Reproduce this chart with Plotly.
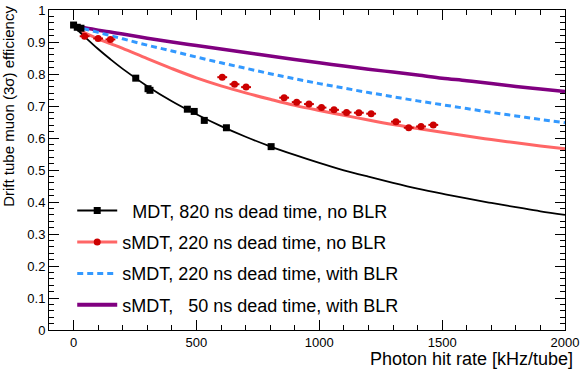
import plotly.graph_objects as go

# measured points
mdt_rate = [0, 15, 30, 253, 303, 311, 463, 491, 532, 622, 804]
mdt_eff = [0.953, 0.946, 0.943, 0.787, 0.754, 0.749, 0.690, 0.683, 0.655, 0.632, 0.573]

smdt_rate = [45, 100, 150, 605, 655, 702, 857, 908, 958, 1009, 1060, 1111, 1161, 1211,
             1312, 1364, 1414, 1464]
smdt_eff = [0.918, 0.911, 0.908, 0.790, 0.768, 0.759, 0.726, 0.712, 0.706, 0.695, 0.688,
            0.680, 0.679, 0.676, 0.651, 0.632, 0.636, 0.641]
smdt_rate_err = [20] * len(smdt_rate)

# model curves
curve_rate = [0, 50, 100, 150, 200, 300, 400, 500, 600, 700, 800, 900, 1000, 1100, 1200,
              1300, 1400, 1500, 1600, 1700, 1800, 1900, 2000]
mdt_curve = [0.950, 0.913, 0.878, 0.846, 0.816, 0.762, 0.715, 0.674, 0.637, 0.604, 0.574,
             0.547, 0.522, 0.499, 0.479, 0.460, 0.442, 0.426, 0.411, 0.397, 0.384, 0.371,
             0.360]
smdt_curve = [0.950, 0.927, 0.910, 0.895, 0.880, 0.848, 0.817, 0.788, 0.763, 0.741, 0.721,
              0.702, 0.686, 0.671, 0.656, 0.642, 0.630, 0.618, 0.606, 0.595, 0.585, 0.575,
              0.566]
smdt_blr_curve = [0.950, 0.940, 0.930, 0.920, 0.910, 0.890, 0.872, 0.853, 0.835, 0.818,
                  0.801, 0.785, 0.770, 0.756, 0.742, 0.729, 0.716, 0.704, 0.692, 0.680,
                  0.669, 0.658, 0.648]
smdt50_blr_curve = [0.950, 0.944, 0.937, 0.931, 0.925, 0.912, 0.900, 0.889, 0.878, 0.867,
                    0.856, 0.845, 0.835, 0.825, 0.815, 0.806, 0.797, 0.787, 0.779, 0.770,
                    0.761, 0.753, 0.745]

legend_names = [
    "\u00a0\u00a0MDT, 820 ns dead time, no BLR",
    "sMDT, 220 ns dead time, no BLR",
    "sMDT, 220 ns dead time, with BLR",
    "sMDT,\u00a0\u00a0\u00a050 ns dead time, with BLR",
]

BLACK = "black"
SALMON = "#ff6666"
RED = "#cc0000"
BLUE = "#3399ff"
PURPLE = "#800080"
FONT = "Liberation Sans, Arial, sans-serif"

fig = go.Figure()

# curves
fig.add_trace(go.Scatter(x=curve_rate, y=smdt50_blr_curve, mode="lines", line_shape="spline",
                         line=dict(color=PURPLE, width=3.5), showlegend=False))
fig.add_trace(go.Scatter(x=curve_rate, y=smdt_blr_curve, mode="lines", line_shape="spline",
                         line=dict(color=BLUE, width=3, dash="6px,4px"), showlegend=False))
fig.add_trace(go.Scatter(x=curve_rate, y=smdt_curve, mode="lines", line_shape="spline",
                         line=dict(color=SALMON, width=3), showlegend=False))
fig.add_trace(go.Scatter(x=curve_rate, y=mdt_curve, mode="lines", line_shape="spline",
                         line=dict(color=BLACK, width=1.8), showlegend=False))

# data points
fig.add_trace(go.Scatter(x=smdt_rate, y=smdt_eff, mode="markers",
                         marker=dict(symbol="circle", size=7, color=RED),
                         error_x=dict(type="data", array=smdt_rate_err, color=RED,
                                      thickness=2, width=0),
                         showlegend=False))
fig.add_trace(go.Scatter(x=mdt_rate, y=mdt_eff, mode="markers",
                         marker=dict(symbol="square", size=7, color=BLACK),
                         showlegend=False))

# legend-only entries
legend_styles = [
    dict(mode="lines+markers", line=dict(color=BLACK, width=2),
         marker=dict(symbol="square", size=7, color=BLACK)),
    dict(mode="lines+markers", line=dict(color=SALMON, width=3),
         marker=dict(symbol="circle", size=7, color=RED)),
    dict(mode="lines", line=dict(color=BLUE, width=3, dash="6px,4px")),
    dict(mode="lines", line=dict(color=PURPLE, width=4)),
]
for i, (name, style) in enumerate(zip(legend_names, legend_styles)):
    fig.add_trace(go.Scatter(x=[None], y=[None], name=name, legendgroup=f"g{i}", **style))

axis_common = dict(
    showline=True, linecolor="black", linewidth=1, mirror="ticks",
    ticks="inside", ticklen=10, tickcolor="black", tickwidth=1,
    showgrid=False, zeroline=False, automargin=False,
    tickfont=dict(family=FONT, size=13, color="black"),
)

fig.update_layout(
    width=581, height=369,
    margin=dict(l=49, r=16, t=10, b=39, autoexpand=False),
    paper_bgcolor="white", plot_bgcolor="white",
    font=dict(family=FONT, color="black"),
    xaxis=dict(range=[-100, 2000], tick0=0, dtick=500,
               minor=dict(dtick=100, ticklen=5, ticks="inside", tickcolor="black"),
               **axis_common),
    yaxis=dict(range=[0, 1], tick0=0, dtick=0.1,
               minor=dict(dtick=0.02, ticklen=5, ticks="inside", tickcolor="black"),
               **axis_common),
    legend=dict(x=0.045, y=0.43, xanchor="left", yanchor="top",
                bgcolor="rgba(0,0,0,0)", font=dict(family=FONT, size=18),
                traceorder="grouped", tracegroupgap=5, itemwidth=40),
    showlegend=True,
    annotations=[
        dict(text="Photon hit rate [kHz/tube]", xref="paper", yref="paper",
             x=1.019, y=-0.092, xanchor="right", yanchor="middle", showarrow=False,
             font=dict(family=FONT, size=18)),
        dict(text="Drift tube muon (3σ) efficiency", xref="paper", yref="paper",
             x=-0.08, y=1.02, xanchor="center", yanchor="top", textangle=-90,
             showarrow=False, font=dict(family=FONT, size=15)),
    ],
)

fig.write_html("out.html", config={"displayModeBar": False},
               post_script="document.body.style.margin='0';")
